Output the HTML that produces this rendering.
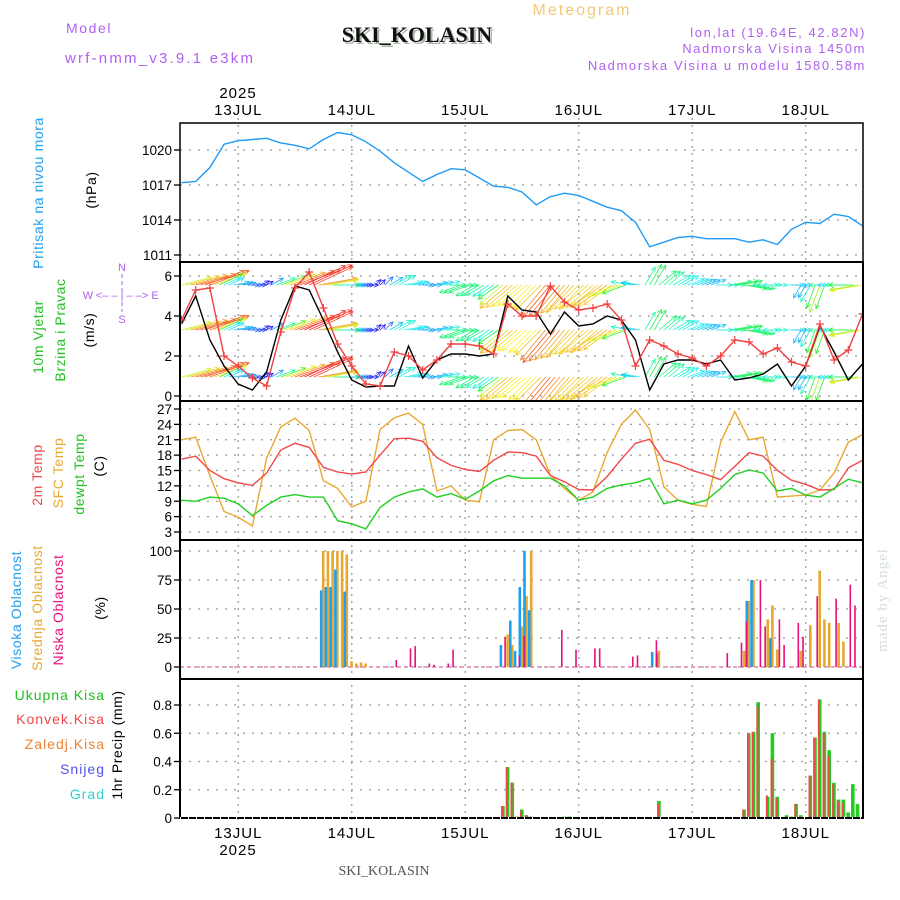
<!DOCTYPE html>
<html><head><meta charset="utf-8">
<style>
html,body{margin:0;padding:0;background:#fff;}
svg{display:block;font-family:"Liberation Sans",sans-serif;}
.tk{font-size:13.5px;fill:#000;}
.dt{font-size:15px;fill:#000;letter-spacing:1px;}
.pl{font-size:13px;fill:#b060f0;letter-spacing:1.6px;}
</style></head><body>
<svg id="chart" width="900" height="900" viewBox="0 0 900 900" xmlns="http://www.w3.org/2000/svg">
<defs>
<clipPath id="cw"><rect x="180" y="262" width="683" height="139"/></clipPath>
<clipPath id="ct"><rect x="180" y="401" width="683" height="139"/></clipPath>
<clipPath id="cp"><rect x="180" y="123" width="683" height="139"/></clipPath>
</defs>
<text x="66" y="33" class="pl" style="font-size:14px">Model</text>
<text x="65" y="63" class="pl" style="font-size:15px;letter-spacing:2.2px">wrf-nmm_v3.9.1  e3km</text>
<text x="419" y="44" text-anchor="middle" style="font-family:'Liberation Serif',serif;font-weight:bold;font-size:22px;fill:#aab8a8">SKI_KOLASIN</text>
<text x="417" y="42" text-anchor="middle" style="font-family:'Liberation Serif',serif;font-weight:bold;font-size:22px;fill:#111">SKI_KOLASIN</text>
<text x="582" y="15" text-anchor="middle" style="font-size:16px;fill:#f0c878;letter-spacing:2px">Meteogram</text>
<text x="866" y="37" text-anchor="end" class="pl">lon,lat (19.64E, 42.82N)</text>
<text x="866" y="53" text-anchor="end" class="pl">Nadmorska Visina 1450m</text>
<text x="866" y="70" text-anchor="end" class="pl">Nadmorska Visina u modelu 1580.58m</text>
<text transform="translate(887,600) rotate(-90)" text-anchor="middle" style="font-family:'Liberation Serif',serif;font-size:15px;fill:#d4dfd4;letter-spacing:1px">made by Angel</text>
<text x="384" y="875" text-anchor="middle" style="font-family:'Liberation Serif',serif;font-size:14px;fill:#555">SKI_KOLASIN</text>
<g id="grid"></g>
<g id="marks"></g>
<g id="axes"></g>
<g id="labels"></g>
</svg>
<script>
// ---------- data ----------
const days = ["13JUL","14JUL","15JUL","16JUL","17JUL","18JUL"];
const dayHours = [12,36,60,84,108,132];
const pressure = [1017.2,1017.3,1018.5,1020.5,1020.8,1020.9,1021.0,1020.6,1020.4,1020.1,1020.9,1021.5,1021.3,1020.7,1019.9,1018.9,1018.1,1017.3,1017.9,1018.4,1018.3,1017.6,1016.9,1016.8,1016.4,1015.3,1016.0,1016.3,1016.1,1015.6,1015.1,1014.8,1013.8,1011.7,1012.1,1012.5,1012.6,1012.4,1012.4,1012.4,1012.1,1012.3,1011.9,1013.2,1013.8,1013.7,1014.5,1014.3,1013.5];
const pressureTicks = [1011,1014,1017,1020];
const windSpeed = [3.6,5.0,2.8,1.5,0.6,0.3,1.2,3.8,5.5,5.3,3.8,2.2,0.8,0.45,0.5,0.5,2.5,0.9,1.8,2.1,2.1,2.0,2.1,5.0,4.3,4.2,3.1,4.2,3.5,3.6,4.0,3.8,2.8,0.3,1.6,1.8,1.8,1.6,1.8,0.8,0.9,1.1,1.6,0.5,1.5,3.5,2.2,0.8,1.6];
const windGust = [3.8,5.3,5.4,2.0,1.5,0.9,0.5,3.2,5.4,6.2,4.4,2.6,1.5,0.6,0.5,2.2,2.0,1.3,1.8,2.6,2.6,2.5,2.1,4.6,4.0,4.0,5.5,4.7,4.3,4.4,4.6,3.8,1.5,2.8,2.5,2.1,1.9,1.5,2.0,2.8,2.7,2.1,2.4,1.7,1.5,3.6,1.8,2.3,4.1];
const windDir = [15,15,20,25,10,0,30,20,20,25,10,0,0,0,45,30,10,0,10,0,200,210,215,220,220,225,230,230,225,220,215,200,170,60,40,30,20,20,0,10,350,0,180,0,240,250,180,180,190];
const windTicks = [0,2,4,6];
const temp2m = [17.2,17.8,15,13.4,12.6,12.1,14.5,19,20.3,19.5,15.6,14.7,14.3,14.7,18,21.2,21.3,20.7,17.5,16,15.2,14.8,17,18.6,18.5,17.8,14,12.8,11.3,11.2,13.8,17.2,20.3,21.1,17,16.2,15,14.2,13.2,15.8,18.5,17.8,15,13.1,12.3,11.2,11.3,15.5,17];
const tempSfc = [21,21.5,14,7,5.9,4.2,17.4,23.5,25.2,22.8,13,11.5,7.9,9,23,25.3,26.2,24,11,12,9.2,8.9,21,22.8,23,21,14.1,11.5,9.2,10.8,18.5,24,26.8,23,11.8,9.2,8.4,8,20.5,26.5,21,21.5,9.8,10,10.2,11.2,14.5,20.5,22];
const tempDew = [9.2,9.0,9.8,9.6,8.5,6.2,8.2,9.8,10.3,9.8,9.8,5.2,4.6,3.6,7.8,9.8,10.8,11.4,9.8,10.5,9.4,11,13,14,13.5,13.5,13.5,12,9.2,9.8,11.5,12.2,12.6,13.5,8.5,9.2,8.5,9.2,11.5,14.2,15.1,14.5,11,11.5,10.2,9.8,11.5,13.3,12.6];
const tempTicks = [3,6,9,12,15,18,21,24,27];
const cloudHighHours = [30,31,32,33,35,68,70,71,72,73,74,100,101,120,121,125];
const cloudHighVals = [66,69,69,84,65,19,40,14,69,100,49,13,12,57,75,25];
const cloudMidHours = [30,31,32,33,34,35,36,37,38,39,69,70,72,73,74,101,119,120,121,124,125,126,131,133,135,136,137,139,140];
const cloudMidVals = [100,100,100,100,100,97,5,3,4,3,28,19,35,61,100,14,14,57,75,41,53,15,14,36,83,41,38,38,22];
const cloudLowHours = [45,48,49,52,53,56,57,68,71,72,80,83,87,88,95,96,100,115,118,119,122,123,126,127,130,131,134,138,141,142];
const cloudLowVals = [6,16,18,3,2,3,15,26,10,27,32,15,16,16,9,10,23,12,21,39,75,35,41,19,38,26,61,59,71,53];
const cloudTicks = [0,25,50,75,100];
const precipHours = [68,69,70,71,72,73,74,81,82,89,101,119,120,121,122,124,125,126,128,129,130,131,133,134,135,136,137,138,139,140,141,142,143];
const precipTotal = [0.085,0.36,0.25,0.01,0.06,0.02,0.01,0.01,0.01,0.01,0.12,0.06,0.6,0.61,0.82,0.15,0.6,0.15,0.02,0.01,0.1,0.02,0.3,0.57,0.84,0.61,0.48,0.25,0.13,0.13,0.04,0.24,0.1];
const precipConv = [0.085,0.36,0.25,0.01,0.05,0.02,0.01,0,0,0,0.1,0.06,0.6,0.61,0.79,0.16,0.42,0.14,0.01,0,0.1,0.01,0.3,0.57,0.84,0.6,0.44,0.24,0.12,0.11,0,0,0];
const precipTicks = [0,0.2,0.4,0.6,0.8];

// ---------- scales ----------
const X0 = 181.5, PXH = 4.729;
function x(h){ return X0 + h*PXH; }
function yP(v){ return 150 - (v-1020)*35/3; }
function yW(v){ return 396 - 20*v; }
function yT(v){ return 409 - (v-27)*5.125; }
function yC(v){ return 667 - v*1.16; }
function yR(v){ return 818 - v*141.25; }
const NS = "http://www.w3.org/2000/svg";
function mk(tag, attrs, parent){
  const e = document.createElementNS(NS, tag);
  for (const k in attrs) e.setAttribute(k, attrs[k]);
  parent.appendChild(e);
  return e;
}
const grid = document.getElementById('grid');
const marks = document.getElementById('marks');
const axes = document.getElementById('axes');
const labels = document.getElementById('labels');

// ---------- grid ----------
const panels = [[123,262,pressureTicks,yP,'pressure'],[262,401,windTicks,yW,'wind'],[401,540,tempTicks,yT,'temp'],[540,679,cloudTicks,yC,'cloud'],[679,818,precipTicks,yR,'precip']];
panels.forEach(p=>{
  p[2].forEach(t=>{
    const yy = p[3](t);
    const g = mk('line',{x1:180,x2:863,y1:yy,y2:yy,stroke:'#9a9a9a','stroke-width':1.3,'stroke-dasharray':'2,7'},grid);
    
    
    const tl = mk('line',{x1:174,x2:180,y1:yy,y2:yy,stroke:'#000','stroke-width':1.3},axes);
    
    
    const lab = mk('text',{x:172,y:yy+5,'text-anchor':'end',class:'tk'},axes);
    
    
    lab.textContent = String(t);
  });
});
dayHours.forEach((h,i)=>{
  const v = mk('line',{x1:x(h),x2:x(h),y1:118,y2:823,stroke:'#9a9a9a','stroke-width':1.3,'stroke-dasharray':'2,5'},grid);
  
  
  const t1 = mk('text',{x:x(h),y:115,'text-anchor':'middle',class:'dt'},axes);
  
  
  t1.textContent = days[i];
  const t2 = mk('text',{x:x(h),y:838,'text-anchor':'middle',class:'dt'},axes);
  
  
  t2.textContent = days[i];
});
[[238,98],[238,855]].forEach(p=>{
  const t = mk('text',{x:p[0],y:p[1],'text-anchor':'middle',class:'dt'},axes);
  
  
  t.textContent = '2025';
});

function line(arr, yf, color, name, clip){
  const pts = arr.map((v,i)=>x(i*3).toFixed(1)+','+yf(v).toFixed(1)).join(' ');
  const pl = mk('polyline',{points:pts,fill:'none',stroke:color,'stroke-width':1.4,'clip-path':'url(#'+clip+')'},marks);
  
  
}
// pressure
line(pressure, yP, '#1e9bf5', 'pressure-line', 'cp');

// wind arrows
function hueFor(s){ const stops=[270,220,180,120,60,30,0,-30]; const i=Math.min(6,Math.floor(s)); const f=Math.min(1,s-i); let h=stops[i]+(stops[i+1]-stops[i])*f; if(h<0)h+=360; return h; }
const wg = mk('g',{'clip-path':'url(#cw)'},marks);


const rows = [285, 330, 377];
for (let hr=0; hr<=144; hr++){
  const i = Math.min(47, Math.floor(hr/3)), f = (hr - i*3)/3;
  const s = windGust[i]*(1-f) + windGust[i+1]*f;
  const d = windDir[Math.round(hr/3)] * Math.PI/180;
  const len = 4 + s*7;
  const col = 'hsl('+hueFor(s).toFixed(0)+',90%,55%)';
  rows.forEach(ry=>{
    const x1 = x(hr), x2 = x1 + len*Math.cos(d), y2 = ry - len*Math.sin(d);
    const a = mk('line',{x1:x1,y1:ry,x2:x2,y2:y2,stroke:col,'stroke-width':0.8},wg);
    
    
    const ang = Math.atan2(y2-ry, x2-x1);
    const hd = mk('path',{d:'M'+(x2-5*Math.cos(ang-0.45)).toFixed(1)+','+(y2-5*Math.sin(ang-0.45)).toFixed(1)+' L'+x2.toFixed(1)+','+y2.toFixed(1)+' L'+(x2-5*Math.cos(ang+0.45)).toFixed(1)+','+(y2-5*Math.sin(ang+0.45)).toFixed(1),fill:'none',stroke:col,'stroke-width':0.8},wg);
    
    
  });
}
line(windSpeed, yW, '#000', 'wind-speed-line', 'cw');
line(windGust, yW, '#f04040', 'wind-gust-line', 'cw');
windGust.forEach((v,i)=>{
  const cx = x(i*3), cy = yW(v);
  const m = mk('path',{d:'M'+(cx-4)+','+cy+' h8 M'+cx+','+(cy-4)+' v8',stroke:'#f04040','stroke-width':1.2,'clip-path':'url(#cw)'},marks);
  
  
});

// temperature
line(tempSfc, yT, '#e8a830', 'sfc-temp-line', 'ct');
line(temp2m, yT, '#f04848', 'temp-2m-line', 'ct');
line(tempDew, yT, '#20d020', 'dewpoint-line', 'ct');

// cloud
const cb = mk('line',{x1:180,x2:863,y1:667,y2:667,stroke:'#e080b0','stroke-width':1.5,'stroke-dasharray':'4,3'},marks);


function bars(hours, vals, color, dx, w, name, yf){
  hours.forEach((h,i)=>{
    const top = yf(vals[i]), base = yf(0);
    const r = mk('rect',{x:(x(h)+dx).toFixed(1),y:top.toFixed(1),width:w,height:Math.max(0,base-top).toFixed(1),fill:color},marks);
    
    
  });
}
bars(cloudMidHours, cloudMidVals, '#e8a830', -1.5, 2.6, 'cloud-mid-bar', yC);
bars(cloudHighHours, cloudHighVals, '#1ea0f0', -3.5, 2.6, 'cloud-high-bar', yC);
bars(cloudLowHours, cloudLowVals, '#e8107a', 1.2, 1.6, 'cloud-low-bar', yC);

// precip
bars(precipHours, precipTotal, '#22cc22', -2, 3.6, 'precip-total-bar', yR);
bars(precipHours, precipConv, '#f04848', -2, 2, 'precip-conv-bar', yR);

// panel frames
[[123,262],[262,401],[401,540],[540,679],[679,818]].forEach((p,i)=>{
  const r = mk('rect',{x:180,y:p[0],width:683,height:p[1]-p[0],fill:'none',stroke:'#000','stroke-width':i==0?1.5:2},axes);
  
  
});
const bd = mk('line',{x1:180,x2:863,y1:818,y2:818,stroke:'#fff','stroke-width':2.2,'stroke-dasharray':'1,7'},axes);



// left labels
function rlab(txt, cx, cy, color, name, size){
  const t = mk('text',{transform:'translate('+cx+','+cy+') rotate(-90)','text-anchor':'middle',style:'font-size:'+(size||14)+'px;fill:'+color+';letter-spacing:0.6px'},labels);
  
  
  t.textContent = txt;
}
rlab('Pritisak na nivou mora', 43, 193, '#1ea0f0', 'pressure-axis-title');
rlab('(hPa)', 96, 190, '#000', 'pressure-unit');
rlab('10m Vjetar', 43, 337, '#20c020', 'wind-axis-title');
rlab('Brzina i Pravac', 65, 330, '#20c020', 'wind-axis-subtitle');
rlab('(m/s)', 94, 330, '#000', 'wind-unit');
rlab('2m Temp', 42, 475, '#f04848', 'temp2m-axis-title');
rlab('SFC Temp', 63, 473, '#e8a830', 'sfc-axis-title');
rlab('dewpt Temp', 84, 474, '#20c020', 'dew-axis-title');
rlab('(C)', 104, 466, '#000', 'temp-unit');
rlab('Visoka Oblacnost', 21, 610, '#1ea0f0', 'cloud-high-title');
rlab('Srednja Oblacnost', 42, 608, '#e8a830', 'cloud-mid-title');
rlab('Niska Oblacnost', 63, 610, '#e8107a', 'cloud-low-title');
rlab('(%)', 105, 608, '#000', 'cloud-unit');
rlab('1hr Precip (mm)', 122, 745, '#000', 'precip-axis-title');
[['Ukupna  Kisa','#20c020',700],['Konvek.Kisa','#f04848',724],['Zaledj.Kisa','#f08030',749],['Snijeg','#5050f0',774],['Grad','#30d0d0',799]].forEach(p=>{
  const t = mk('text',{x:105,y:p[2],'text-anchor':'end',style:'font-size:14px;letter-spacing:1px;fill:'+p[1]},labels);
  
  
  t.textContent = p[0];
});
// compass
const cp = [['N',122,271],['S',122,323],['W',88,299],['E',155,299],['<\u2013 \u2013 | \u2013 \u2013>',122,299]];
cp.forEach(p=>{
  const t = mk('text',{x:p[1],y:p[2],'text-anchor':'middle',style:'font-size:11px;fill:#b060f0'},labels);
  
  
  t.textContent = p[0];
});
const cl = mk('line',{x1:122,x2:122,y1:274,y2:312,stroke:'#b060f0','stroke-width':1,'stroke-dasharray':'4,3'},labels);


</script>
</body></html>
